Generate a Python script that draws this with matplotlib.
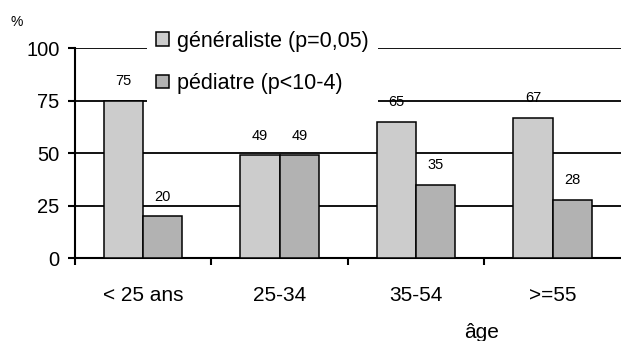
import matplotlib
matplotlib.use("Agg")
import matplotlib.pyplot as plt
import numpy as np
from matplotlib.patches import Patch

plt.rcParams['font.family'] = ['Liberation Sans', 'DejaVu Sans']

# age groups and share (%) per type of doctor
ages = ['< 25 ans', '25-34', '35-54', '>=55']
generaliste = [75, 49, 65, 67]
pediatre = [20, 49, 35, 28]
series_names = ['généraliste (p=0,05)', 'pédiatre (p<10-4)']
colors = ['#cccccc', '#b2b2b2']

fig = plt.figure(figsize=(6.21, 3.41), dpi=100)
ax = fig.add_axes([0.1204, 0.2425, 0.8796, 0.6159])

x = np.arange(len(ages))
w = 0.288
for vals, off, col in [(generaliste, -w / 2, colors[0]), (pediatre, w / 2, colors[1])]:
    bars = ax.bar(x + off, vals, w, color=col, edgecolor='black', linewidth=1.1, zorder=3)
    for b, v in zip(bars, vals):
        ax.annotate(str(v), (b.get_x() + b.get_width() / 2, v), xytext=(0, 14),
                    textcoords='offset points', ha='center', va='center', fontsize=10.5)

ax.set_xlim(-0.5, len(ages) - 0.5)
ax.set_ylim(0, 100)
ax.set_yticks([0, 25, 50, 75, 100])
ax.yaxis.grid(True, color='black', linewidth=1.3)
ax.set_axisbelow(True)

for s in ['top', 'right']:
    ax.spines[s].set_visible(False)
for s in ['left', 'bottom']:
    ax.spines[s].set_linewidth(1.5)

ax.set_xticks(x)
ax.set_xticklabels(ages)
ax.set_xticks(np.arange(-0.5, len(ages) - 1), minor=True)
ax.tick_params(axis='x', which='major', length=0, pad=20, labelsize=15)
ax.tick_params(axis='x', which='minor', length=5, width=1.5, direction='out')
ax.tick_params(axis='y', length=5, width=1.5, pad=6, labelsize=14.5)

fig.text(482 / 621, 1 - 332 / 341, 'âge', ha='center', va='center', fontsize=15)
fig.text(17 / 621, 1 - 22 / 341, '%', ha='center', va='center', fontsize=10)

handles = [Patch(facecolor=c, edgecolor='black', linewidth=1.1) for c in colors]
leg = ax.legend(handles, series_names, loc='upper left',
                bbox_to_anchor=(147 / 621, 1 - 22 / 341), bbox_transform=fig.transFigure,
                fontsize=15.5, frameon=True, framealpha=1, facecolor='white', edgecolor='none',
                handlelength=0.6, handleheight=0.6, handletextpad=0.4, labelspacing=1.0,
                borderpad=0.4, borderaxespad=0, fancybox=False)
leg.set_zorder(5)

fig.savefig('out.png', dpi=100)
